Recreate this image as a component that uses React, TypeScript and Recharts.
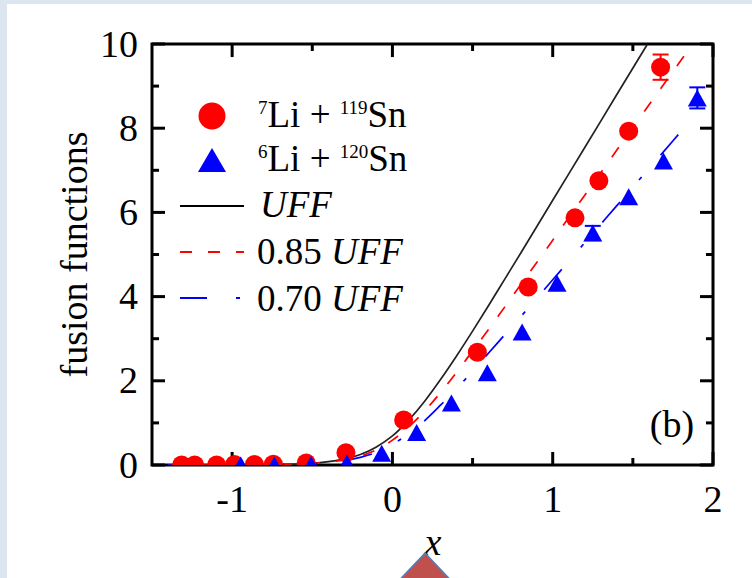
import {
  ComposedChart,
  Line,
  Scatter,
  XAxis,
  YAxis,
  ErrorBar,
  ReferenceLine,
  ReferenceArea,
  Customized,
} from 'recharts';

// 7Li + 119Sn (red circles)
const li7X = [-1.315, -1.234, -1.097, -0.985, -0.861, -0.743, -0.538, -0.29, 0.07, 0.53, 0.847, 1.139, 1.288, 1.474, 1.673];
const li7Y = [0, 0, 0, 0.01, 0.01, 0.02, 0.05, 0.29, 1.07, 2.68, 4.23, 5.87, 6.75, 7.93, 9.45];
const li7Err = [0, 0, 0, 0, 0, 0, 0, 0, 0, 0, 0, 0, 0, 0, 0.3];

// 6Li + 120Sn (blue triangles)
const li6X = [-0.947, -0.737, -0.508, -0.284, -0.067, 0.151, 0.368, 0.592, 0.809, 1.027, 1.25, 1.474, 1.691, 1.902];
const li6Y = [0, 0, 0.01, 0.05, 0.28, 0.77, 1.47, 2.19, 3.16, 4.32, 5.51, 6.37, 7.22, 8.72];
const li6Err = [0, 0, 0, 0, 0, 0, 0, 0, 0, 0, 0.17, 0, 0, 0.25];

// curves
const uffX = [-1.4, -1.0, -0.8, -0.6, -0.5, -0.4, -0.3, -0.2, -0.1, 0, 0.1, 0.2, 0.3, 0.4, 0.5, 0.6, 0.7, 0.8, 1.0, 1.2, 1.4, 1.59];
const uffY = [0, 0, 0.01, 0.02, 0.04, 0.08, 0.14, 0.25, 0.43, 0.69, 1.06, 1.51, 2.03, 2.59, 3.18, 3.79, 4.41, 5.03, 6.29, 7.54, 8.8, 9.99];
const uff85X = [-1.4, -1.0, -0.8, -0.6, -0.5, -0.4, -0.3, -0.2, -0.1, 0, 0.1, 0.2, 0.3, 0.4, 0.5, 0.6, 0.7, 0.8, 1.0, 1.2, 1.4, 1.6, 1.86];
const uff85Y = [0, 0, 0.01, 0.02, 0.04, 0.07, 0.12, 0.21, 0.36, 0.59, 0.9, 1.28, 1.72, 2.2, 2.71, 3.22, 3.75, 4.28, 5.34, 6.41, 7.48, 8.55, 9.93];
const uff70X = [-1.4, -1.0, -0.8, -0.6, -0.5, -0.4, -0.3, -0.2, -0.1, 0, 0.1, 0.2, 0.3, 0.4, 0.5, 0.6, 0.7, 0.8, 1.0, 1.2, 1.4, 1.6, 1.9];
const uff70Y = [0, 0, 0, 0.02, 0.03, 0.05, 0.1, 0.18, 0.3, 0.49, 0.74, 1.05, 1.42, 1.81, 2.23, 2.66, 3.09, 3.52, 4.4, 5.28, 6.16, 7.04, 8.36];

const xMajor = [-1, 0, 1, 2];
const xMinor = [-0.5, 0.5, 1.5];
const yMajor = [0, 2, 4, 6, 8, 10];
const yMinor = [1, 3, 5, 7, 9];

const li7 = li7X.map((x, i) => ({ x, y: li7Y[i], err: li7Err[i] }));
const li6 = li6X.map((x, i) => ({ x, y: li6Y[i], err: li6Err[i] }));
const uff = uffX.map((x, i) => ({ x, y: uffY[i] }));
const uff85 = uff85X.map((x, i) => ({ x, y: uff85Y[i] }));
const uff70 = uff70X.map((x, i) => ({ x, y: uff70Y[i] }));

const FONT = '"Liberation Serif", "Times New Roman", serif';
const BAND = '#dce6f1';
const RED = '#ff0000';
const BLUE = '#0000ff';

// tick lengths in data units (x: ~161 px/unit, y: ~42.1 px/unit)
const MAJ_X = 0.081;
const MIN_X = 0.044;
const MAJ_Y = 0.31;
const MIN_Y = 0.166;

const XTick = ({ x, y, payload }: any) => (
  <text x={x} y={y + 47} textAnchor="middle" fontFamily={FONT} fontSize={38} fill="#000">
    {String(payload.value)}
  </text>
);

const YTick = ({ x, y, payload }: any) => (
  <text x={x - 14} y={y + 12.5} textAnchor="end" fontFamily={FONT} fontSize={38} fill="#000">
    {String(payload.value)}
  </text>
);

const Dot = ({ cx, cy }: any) => <circle cx={cx} cy={cy} r={9.5} fill={RED} />;

const Tri = ({ cx, cy }: any) => (
  <polygon points={`${cx},${cy - 8.5} ${cx + 9.5},${cy + 8.5} ${cx - 9.5},${cy + 8.5}`} fill={BLUE} />
);

function Decor() {
  const sup = 19;
  const big = 37;
  return (
    <g fontFamily={FONT} fill="#000">
      {/* legend */}
      <circle cx={212} cy={116} r={13.5} fill={RED} />
      <text x={258} y={127} fontSize={big}>
        <tspan fontSize={sup} dy={-13}>7</tspan>
        <tspan fontSize={big} dy={13}>{'Li + '}</tspan>
        <tspan fontSize={sup} dy={-13}>119</tspan>
        <tspan fontSize={big} dy={13}>Sn</tspan>
      </text>
      <polygon points="212,148 226,172 198,172" fill={BLUE} />
      <text x={258} y={171} fontSize={big}>
        <tspan fontSize={sup} dy={-13}>6</tspan>
        <tspan fontSize={big} dy={13}>{'Li + '}</tspan>
        <tspan fontSize={sup} dy={-13}>120</tspan>
        <tspan fontSize={big} dy={13}>Sn</tspan>
      </text>
      <line x1={180} y1={206} x2={244} y2={206} stroke="#000" strokeWidth={2} />
      <text x={260} y={217} fontSize={big} fontStyle="italic">UFF</text>
      <line x1={180} y1={252} x2={244} y2={252} stroke={RED} strokeWidth={2} strokeDasharray="12 16" />
      <text x={257} y={264} fontSize={big}>
        {'0.85 '}<tspan fontStyle="italic">UFF</tspan>
      </text>
      <line x1={180} y1={298} x2={244} y2={298} stroke={BLUE} strokeWidth={2} strokeDasharray="27 29 4 29" />
      <text x={257} y={311} fontSize={big}>
        {'0.70 '}<tspan fontStyle="italic">UFF</tspan>
      </text>

      <text x={672} y={437} fontSize={38} textAnchor="middle">(b)</text>

      {/* axis titles */}
      <text x={87} y={254.5} fontSize={38} textAnchor="middle" transform="rotate(-90, 87, 254.5)">
        fusion functions
      </text>
      <text x={433} y={555} fontSize={38} textAnchor="middle" fontStyle="italic">x</text>

      {/* slide decoration */}
      <polygon points="425,553 460,590 390,590" fill="#c0504d" stroke="#4f81bd" strokeWidth={1.5} />
    </g>
  );
}

export default function App() {
  return (
    <div style={{ position: 'absolute', left: 0, top: 0, width: 752, height: 578, background: '#fff', overflow: 'hidden' }}>
      <div style={{ position: 'absolute', left: 0, top: 0, width: 752, height: 4, background: BAND }} />
      <div style={{ position: 'absolute', left: 0, top: 0, width: 7, height: 578, background: BAND }} />
      <ComposedChart
        width={752}
        height={578}
        margin={{ top: 44, right: 39, bottom: 53, left: 92 }}
        style={{ position: 'absolute', left: 0, top: 0 }}
      >
        <XAxis
          type="number"
          dataKey="x"
          domain={[-1.5, 2]}
          ticks={xMajor}
          allowDataOverflow
          axisLine={false}
          tickLine={false}
          tickSize={0}
          tickMargin={0}
          height={60}
          tick={<XTick />}
          interval={0}
        />
        <YAxis
          type="number"
          dataKey="y"
          domain={[0, 10]}
          ticks={yMajor}
          allowDataOverflow
          axisLine={false}
          tickLine={false}
          tickSize={0}
          tickMargin={0}
          width={60}
          tick={<YTick />}
          interval={0}
        />

        <Scatter data={li7} dataKey="y" fill={RED} shape={<Dot />} isAnimationActive={false}>
          <ErrorBar dataKey="err" direction="y" width={8} stroke={RED} strokeWidth={2} />
        </Scatter>
        <Scatter data={li6} dataKey="y" fill={BLUE} shape={<Tri />} isAnimationActive={false}>
          <ErrorBar dataKey="err" direction="y" width={8} stroke={BLUE} strokeWidth={2} />
        </Scatter>

        <Line data={uff} dataKey="y" type="monotone" stroke="#222" strokeWidth={1.7} dot={false} activeDot={false} isAnimationActive={false} />
        <Line data={uff85} dataKey="y" type="monotone" stroke={RED} strokeWidth={1.7} strokeDasharray="12 16" dot={false} activeDot={false} isAnimationActive={false} />
        <Line data={uff70} dataKey="y" type="monotone" stroke={BLUE} strokeWidth={1.7} strokeDasharray="27 29 4 29" dot={false} activeDot={false} isAnimationActive={false} />

        <ReferenceArea x1={-1.5} x2={2} y1={0} y2={10} fill="none" fillOpacity={0} stroke="#000" strokeWidth={3} ifOverflow="visible" />

        {xMajor.map((t) => (
          <ReferenceLine key={`xb${t}`} segment={[{ x: t, y: 0 }, { x: t, y: MAJ_Y }]} stroke="#000" strokeWidth={3} ifOverflow="visible" />
        ))}
        {xMajor.map((t) => (
          <ReferenceLine key={`xt${t}`} segment={[{ x: t, y: 10 }, { x: t, y: 10 - MAJ_Y }]} stroke="#000" strokeWidth={3} ifOverflow="visible" />
        ))}
        {xMinor.map((t) => (
          <ReferenceLine key={`xmb${t}`} segment={[{ x: t, y: 0 }, { x: t, y: MIN_Y }]} stroke="#000" strokeWidth={3} ifOverflow="visible" />
        ))}
        {xMinor.map((t) => (
          <ReferenceLine key={`xmt${t}`} segment={[{ x: t, y: 10 }, { x: t, y: 10 - MIN_Y }]} stroke="#000" strokeWidth={3} ifOverflow="visible" />
        ))}
        {yMajor.map((t) => (
          <ReferenceLine key={`yl${t}`} segment={[{ x: -1.5, y: t }, { x: -1.5 + MAJ_X, y: t }]} stroke="#000" strokeWidth={3} ifOverflow="visible" />
        ))}
        {yMajor.map((t) => (
          <ReferenceLine key={`yr${t}`} segment={[{ x: 2, y: t }, { x: 2 - MAJ_X, y: t }]} stroke="#000" strokeWidth={3} ifOverflow="visible" />
        ))}
        {yMinor.map((t) => (
          <ReferenceLine key={`yml${t}`} segment={[{ x: -1.5, y: t }, { x: -1.5 + MIN_X, y: t }]} stroke="#000" strokeWidth={3} ifOverflow="visible" />
        ))}
        {yMinor.map((t) => (
          <ReferenceLine key={`ymr${t}`} segment={[{ x: 2, y: t }, { x: 2 - MIN_X, y: t }]} stroke="#000" strokeWidth={3} ifOverflow="visible" />
        ))}

        <Customized component={Decor} />
      </ComposedChart>
    </div>
  );
}
